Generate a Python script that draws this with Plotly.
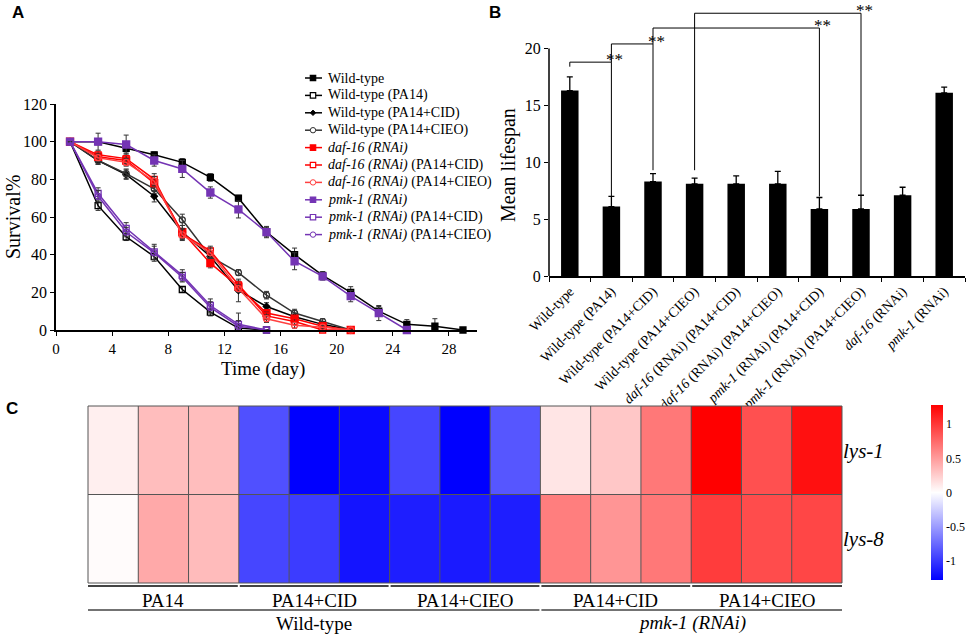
import plotly.graph_objects as go

W, H = 969, 637
SERIF = "Liberation Serif"
SANS = "Liberation Sans"


def xp(px):
    return px / W


def yp(py):
    return 1 - py / H


# ---- panel A: survival curves ----
days = [1, 3, 5, 7, 9, 11, 13, 15, 17, 19, 21, 23, 25, 27, 29]

surv_wt = [100, 100, 96.5, 93, 89, 81, 70, 52, 40, 29, 20, 10, 3, 2, 0]
err_wt = [0, 0, 2, 1.5, 2, 2, 1.5, 2.5, 3.5, 2, 3, 2.5, 2.5, 4, 0]
surv_wt_pa14 = [100, 66, 49.5, 39, 21.5, 9.5, 1, 0]
err_wt_pa14 = [0, 2.5, 2, 2.5, 1.5, 2, 1, 0]
surv_wt_cid = [100, 90, 82.5, 71, 52, 39, 21, 12.5, 7, 3, 0]
err_wt_cid = [0, 2, 2.5, 3, 3.5, 2.5, 6, 2, 2, 1.5, 0]
surv_wt_cieo = [100, 90, 83, 75, 58.5, 39, 30.5, 18.5, 9, 4.5, 0]
err_wt_cieo = [0, 2, 2.5, 2.5, 3, 2, 1.5, 2, 2, 1.5, 0]
surv_daf = [100, 92, 90, 78, 52, 35.5, 23, 9, 6, 2, 0]
err_daf = [0, 2, 2.5, 2.5, 3.5, 2.5, 2.5, 2, 1.5, 1, 0]
surv_daf_cid = [100, 93, 91, 80, 51, 42, 24, 7.5, 4.5, 0, 0]
err_daf_cid = [0, 2, 2.5, 3, 3, 2.5, 2, 2, 1.5, 0, 0]
surv_daf_cieo = [100, 91.5, 89, 79, 50.5, 41, 22, 6, 2.5, 1.5, 0]
err_daf_cieo = [0, 2, 2, 2.5, 3, 2.5, 2, 2, 1.5, 1, 0]
surv_pmk = [100, 100, 98.5, 90, 85.5, 73, 64, 52, 36.5, 28.5, 18, 9, 0]
err_pmk = [0, 4.5, 5, 3, 4.5, 3, 4.5, 3, 4.5, 2, 3, 4, 0]
surv_pmk_cid = [100, 72.5, 54, 41.5, 29, 13, 3, 0]
err_pmk_cid = [0, 3, 3, 4, 3, 3.5, 6, 0]
surv_pmk_cieo = [100, 71, 52, 41, 28, 12, 2, 0]
err_pmk_cieo = [0, 3, 2.5, 3.5, 2.5, 3, 3, 0]

# ---- panel B: mean lifespan ----
groups_b = ["Wild-type", "Wild-type (PA14)", "Wild-type (PA14+CID)",
            "Wild-type (PA14+CIEO)", "<i>daf-16</i> (RNAi) (PA14+CID)",
            "<i>daf-16</i> (RNAi) (PA14+CIEO)", "<i>pmk-1</i> (RNAi) (PA14+CID)",
            "<i>pmk-1</i> (RNAi) (PA14+CIEO)", "<i>daf-16</i> (RNAi)",
            "<i>pmk-1</i> (RNAi)"]
mean_life = [16.3, 6.1, 8.3, 8.1, 8.1, 8.1, 5.9, 5.9, 7.1, 16.1]
mean_err = [1.2, 0.9, 0.7, 0.5, 0.7, 1.1, 1.0, 1.2, 0.7, 0.5]
# (left bar, right bar, bracket level, left leg end, right leg end)
brackets = [(0, 1, 18.8, 18.4, 7.0), (1, 2, 20.4, 18.8, 9.3),
            (2, 6, 21.8, 20.4, 7.0), (3, 7, 23.1, 9.3, 7.1)]

# ---- panel C: heatmap ----
genes = ["<i>lys-1</i>", "<i>lys-8</i>"]
z_lys1 = [0.08, 0.33, 0.33, -0.88, -1.28, -1.23, -0.93, -1.28, -0.85,
          0.13, 0.28, 0.68, 1.28, 0.88, 1.2]
z_lys8 = [0.02, 0.43, 0.34, -0.93, -0.98, -1.18, -1.13, -1.15, -1.13,
          0.65, 0.53, 0.68, 0.98, 0.9, 0.93]
sub_groups = ["PA14", "PA14+CID", "PA14+CIEO", "PA14+CID", "PA14+CIEO"]
main_groups = ["Wild-type", "<i>pmk-1 (RNAi)</i>"]

fig = go.Figure()

BLACK, GREY, RED, PURPLE = "#000000", "#333333", "#ff0000", "#7434b4"
series = [
    ("Wild-type", surv_wt, err_wt, BLACK, "square", 6),
    ("Wild-type (PA14)", surv_wt_pa14, err_wt_pa14, BLACK, "square-open", 6),
    ("Wild-type (PA14+CID)", surv_wt_cid, err_wt_cid, BLACK, "diamond", 5),
    ("Wild-type (PA14+CIEO)", surv_wt_cieo, err_wt_cieo, GREY, "circle-open", 6),
    ("<i>daf-16 (RNAi)</i>", surv_daf, err_daf, RED, "square", 7),
    ("<i>daf-16 (RNAi)</i> (PA14+CID)", surv_daf_cid, err_daf_cid, RED, "square-open", 6),
    ("<i>daf-16 (RNAi)</i> (PA14+CIEO)", surv_daf_cieo, err_daf_cieo, "#ff4040", "circle-open", 6),
    ("<i>pmk-1 (RNAi)</i>", surv_pmk, err_pmk, PURPLE, "square", 7),
    ("<i>pmk-1 (RNAi)</i> (PA14+CID)", surv_pmk_cid, err_pmk_cid, PURPLE, "square-open", 6),
    ("<i>pmk-1 (RNAi)</i> (PA14+CIEO)", surv_pmk_cieo, err_pmk_cieo, PURPLE, "circle-open", 6),
]
for name, ys, es, col, sym, sz in series:
    fig.add_trace(go.Scatter(
        x=days[:len(ys)], y=ys, name=name, mode="lines+markers", showlegend=False,
        line=dict(color=col, width=1.5),
        marker=dict(symbol=sym, size=sz, color=col, line=dict(color=col, width=1.3)),
        error_y=dict(type="data", array=es, color="#333333", thickness=1, width=2.5),
        cliponaxis=False, xaxis="x", yaxis="y"))

fig.add_trace(go.Bar(
    x=groups_b, y=mean_life, marker=dict(color="black", line=dict(width=0)),
    width=0.42, showlegend=False, xaxis="x2", yaxis="y2",
    error_y=dict(type="data", symmetric=False, array=mean_err,
                 arrayminus=[0] * len(mean_err), color="black",
                 thickness=1.3, width=3)))

fig.add_trace(go.Heatmap(
    z=[z_lys1, z_lys8], x=list(range(15)), y=[0, 1],
    zmin=-1.28, zmax=1.28, showlegend=False, xaxis="x3", yaxis="y3",
    colorscale=[[0, "rgb(0,0,255)"], [0.5, "rgb(255,255,255)"], [1, "rgb(255,0,0)"]],
    colorbar=dict(x=xp(931), xanchor="left", y=yp(492.5), yanchor="middle",
                  len=175 / H, thickness=12, outlinewidth=0, ticks="",
                  xpad=0, ypad=0,
                  tickvals=[-1, -0.5, 0, 0.5, 1], ticktext=["-1", "-0.5", "0", "0.5", "1"],
                  tickfont=dict(family=SERIF, size=12, color="black"))))

shapes = []
annotations = []


def label(x, y, text, size, **kw):
    d = dict(xref="paper", yref="paper", x=xp(x), y=yp(y), text=text, showarrow=False,
             xanchor="center", yanchor="middle",
             font=dict(family=SERIF, size=size, color="black"))
    d.update(kw)
    annotations.append(d)


# custom legend for panel A
for i, (name, ys, es, col, sym, sz) in enumerate(series):
    cy = 78 + 17.4 * i
    shapes.append(dict(type="line", xref="paper", yref="paper", x0=xp(305), x1=xp(322),
                       y0=yp(cy), y1=yp(cy), line=dict(color=col, width=1.5)))
    r = 2.7
    if sym.startswith("square"):
        shapes.append(dict(type="rect", xref="paper", yref="paper",
                           x0=xp(313 - r), x1=xp(313 + r), y0=yp(cy + r), y1=yp(cy - r),
                           line=dict(color=col, width=1.2),
                           fillcolor=col if sym == "square" else "white"))
    elif sym == "circle-open":
        shapes.append(dict(type="circle", xref="paper", yref="paper",
                           x0=xp(313 - r), x1=xp(313 + r), y0=yp(cy + r), y1=yp(cy - r),
                           line=dict(color=col, width=1), fillcolor="white"))
    else:
        d = "M %f,%f L %f,%f L %f,%f L %f,%f Z" % (
            xp(313 - r), yp(cy), xp(313), yp(cy - r), xp(313 + r), yp(cy), xp(313), yp(cy + r))
        shapes.append(dict(type="path", xref="paper", yref="paper", path=d,
                           line=dict(color=col, width=1), fillcolor=col))
    label(326, cy, name, 14, xanchor="left")

# panel B significance brackets
for a, b, lvl, la, lb in brackets:
    for x0, y0, x1, y1 in [(a, la, a, lvl), (a, lvl, b, lvl), (b, lvl, b, lb)]:
        shapes.append(dict(type="line", xref="x2", yref="y2", x0=x0, y0=y0,
                           x1=x1, y1=y1, line=dict(color="black", width=1)))
    annotations.append(dict(xref="x2", yref="y2", x=b, y=lvl, text="**",
                            showarrow=False, yanchor="bottom", yshift=-9, xshift=3,
                            font=dict(family=SERIF, size=17, color="black")))
# B vertical axis line from 0 to 20
shapes.append(dict(type="line", xref="paper", yref="y2", x0=xp(549), x1=xp(549),
                   y0=0, y1=20, line=dict(color="black", width=1.5)))

# axis titles
label(13, 217, "Survival%", 20, textangle=-90)
label(263, 369, "Time (day)", 19)
label(508, 165, "Mean lifespan", 20, textangle=-90)

# panel C cell borders and group lines
hx0, hx1, hy0, hy1 = 88, 842, 406, 583
cw = (hx1 - hx0) / 15
for i in range(16):
    xx = hx0 + i * cw
    shapes.append(dict(type="line", xref="paper", yref="paper", x0=xp(xx), x1=xp(xx),
                       y0=yp(hy0), y1=yp(hy1), line=dict(color="#555555", width=1)))
for yy in [hy0, (hy0 + hy1) / 2, hy1]:
    shapes.append(dict(type="line", xref="paper", yref="paper", x0=xp(hx0), x1=xp(hx1),
                       y0=yp(yy), y1=yp(yy), line=dict(color="#555555", width=1)))
for g, lab in enumerate(sub_groups):
    a = hx0 + 3 * g * cw + (1 if g else 0)
    b = hx0 + 3 * (g + 1) * cw - (1 if g < 4 else 0)
    shapes.append(dict(type="line", xref="paper", yref="paper", x0=xp(a), x1=xp(b),
                       y0=yp(586), y1=yp(586), line=dict(color="#444444", width=2.2)))
    label((a + b) / 2, 600, lab, 19)
for (c0, c1), lab in zip([(0, 9), (9, 15)], main_groups):
    a = hx0 + c0 * cw + (1 if c0 else 0)
    b = hx0 + c1 * cw - (1 if c1 < 15 else 0)
    shapes.append(dict(type="line", xref="paper", yref="paper", x0=xp(a), x1=xp(b),
                       y0=yp(610), y1=yp(610), line=dict(color="#444444", width=1.5)))
    label((a + b) / 2, 623, lab, 19)

# panel letters
for lab, x, y in [("A", 10, 12), ("B", 487, 12), ("C", 4, 408)]:
    label(x, y, "<b>%s</b>" % lab, 17, xanchor="left",
          font=dict(family=SANS, size=17, color="black"))

axis_common = dict(showgrid=False, zeroline=False, showline=True, linecolor="black",
                   linewidth=1.5, ticks="outside", ticklen=4, tickcolor="black",
                   automargin=False,
                   tickfont=dict(family=SERIF, size=16, color="black"))

fig.update_layout(
    template="none",
    width=W, height=H, margin=dict(l=0, r=0, t=0, b=0, pad=0),
    paper_bgcolor="white", plot_bgcolor="white", showlegend=False,
    font=dict(family=SERIF, color="black"),
    xaxis=dict(axis_common, domain=[xp(56), xp(477)], range=[0, 30],
               tickvals=list(range(0, 29, 4)), tickfont=dict(family=SERIF, size=15, color="black"),
               anchor="y"),
    yaxis=dict(axis_common, domain=[yp(330), yp(104)], range=[0, 120], dtick=20, anchor="x"),
    xaxis2=dict(axis_common, domain=[xp(549), xp(965)], type="category", tickangle=-45,
                tickson="boundaries", ticklen=4,
                tickfont=dict(family=SERIF, size=14, color="black"), anchor="y2"),
    yaxis2=dict(axis_common, domain=[yp(276), yp(3)], range=[0, 24],
                tickvals=[0, 5, 10, 15, 20], showline=False, anchor="x2"),
    xaxis3=dict(domain=[xp(hx0), xp(hx1)], range=[-0.5, 14.5], showticklabels=False,
                showgrid=False, zeroline=False, showline=False, ticks="", anchor="y3",
                automargin=False),
    yaxis3=dict(domain=[yp(hy1), yp(hy0)], range=[1.5, -0.5], side="right",
                tickvals=[0, 1], ticktext=genes, ticks="", showgrid=False, zeroline=False,
                showline=False, tickfont=dict(family=SERIF, size=21, color="black"),
                anchor="x3", automargin=False),
    shapes=shapes, annotations=annotations,
)

fig.write_html("out.html", config={"displayModeBar": False},
               post_script="document.body.style.margin='0px';document.body.style.overflow='hidden';")
